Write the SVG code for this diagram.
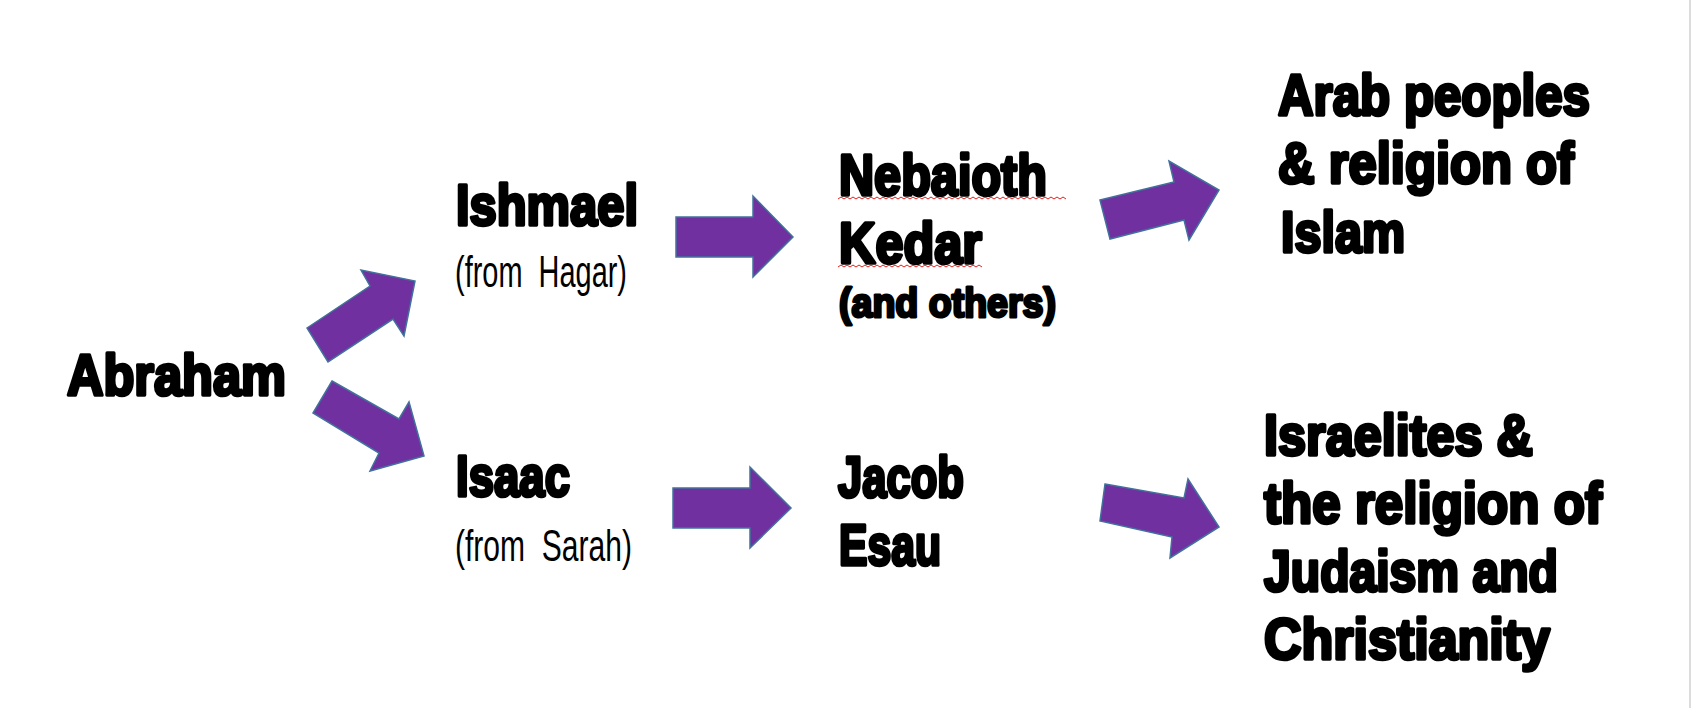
<svg xmlns="http://www.w3.org/2000/svg" width="1692" height="708" viewBox="0 0 1692 708">
<style>
.big{font-family:"Liberation Sans",Arial,sans-serif;font-weight:bold;font-size:57px;fill:#000;stroke:#000;stroke-width:3.6;stroke-linejoin:round}
.mid{font-family:"Liberation Sans",Arial,sans-serif;font-weight:bold;font-size:41px;fill:#000;stroke:#000;stroke-width:3;stroke-linejoin:round}
.small{font-family:"Liberation Sans",Arial,sans-serif;font-size:44px;fill:#000}
.arrow{fill:#7030A0;stroke:#41719C;stroke-width:1.5;stroke-linejoin:miter}
.squig{fill:none;stroke:#E02020;stroke-width:1}
</style>
<rect x="0" y="0" width="1692" height="708" fill="#fff"/>
<line x1="1690" y1="0" x2="1690" y2="708" stroke="#d0d0d0" stroke-width="1.5"/>
<g id="connectors">
<polygon class="arrow" points="307,328 370,286 361,270 415,281 404,336 393,319 328,362"/>
<polygon class="arrow" points="332,381 399,419 409,402 424,456 370,471 379,453 313,413"/>
<polygon class="arrow" points="676,217 753,217 753,196 793,237 753,277 753,257 676,257"/>
<polygon class="arrow" points="673,488 750,488 750,467 791,508 750,548 750,528 673,528"/>
<polygon class="arrow" points="1100,200 1174,182 1169,161 1219,190 1189,240 1184,220 1110,239"/>
<polygon class="arrow" points="1105,484 1184,498 1188,479 1219,527 1170,558 1172,537 1100,521"/>
</g>
<g id="abraham"><text class="big" x="67" y="395" textLength="219" lengthAdjust="spacingAndGlyphs">Abraham</text></g>
<g id="ishmael">
<text class="big" x="456" y="225" textLength="182" lengthAdjust="spacingAndGlyphs">Ishmael</text>
<text class="small" x="455" y="287" textLength="172" lengthAdjust="spacingAndGlyphs" xml:space="preserve">(from  Hagar)</text>
</g>
<g id="isaac">
<text class="big" x="456" y="496" textLength="114" lengthAdjust="spacingAndGlyphs">Isaac</text>
<text class="small" x="455" y="561" textLength="177" lengthAdjust="spacingAndGlyphs" xml:space="preserve">(from  Sarah)</text>
</g>
<g id="nebaioth-kedar">
<text class="big" x="839" y="195" textLength="208" lengthAdjust="spacingAndGlyphs">Nebaioth</text>
<path class="squig" d="M838,199 l3,-2 l3,2 l3,-2 l3,2 l3,-2 l3,2 l3,-2 l3,2 l3,-2 l3,2 l3,-2 l3,2 l3,-2 l3,2 l3,-2 l3,2 l3,-2 l3,2 l3,-2 l3,2 l3,-2 l3,2 l3,-2 l3,2 l3,-2 l3,2 l3,-2 l3,2 l3,-2 l3,2 l3,-2 l3,2 l3,-2 l3,2 l3,-2 l3,2 l3,-2 l3,2 l3,-2 l3,2 l3,-2 l3,2 l3,-2 l3,2 l3,-2 l3,2 l3,-2 l3,2 l3,-2 l3,2 l3,-2 l3,2 l3,-2 l3,2 l3,-2 l3,2 l3,-2 l3,2 l3,-2 l3,2 l3,-2 l3,2 l3,-2 l3,2 l3,-2 l3,2 l3,-2 l3,2 l3,-2 l3,2 l3,-2 l3,2 l3,-2 l3,2 l3,-2 l3,2"/>
<text class="big" x="839" y="263" textLength="143" lengthAdjust="spacingAndGlyphs">Kedar</text>
<path class="squig" d="M838,267 l3,-2 l3,2 l3,-2 l3,2 l3,-2 l3,2 l3,-2 l3,2 l3,-2 l3,2 l3,-2 l3,2 l3,-2 l3,2 l3,-2 l3,2 l3,-2 l3,2 l3,-2 l3,2 l3,-2 l3,2 l3,-2 l3,2 l3,-2 l3,2 l3,-2 l3,2 l3,-2 l3,2 l3,-2 l3,2 l3,-2 l3,2 l3,-2 l3,2 l3,-2 l3,2 l3,-2 l3,2 l3,-2 l3,2 l3,-2 l3,2 l3,-2 l3,2 l3,-2 l3,2"/>
<text class="mid" x="839" y="317" textLength="217" lengthAdjust="spacingAndGlyphs">(and others)</text>
</g>
<g id="jacob-esau">
<text class="big" x="838" y="497" textLength="126" lengthAdjust="spacingAndGlyphs">Jacob</text>
<text class="big" x="839" y="565" textLength="102" lengthAdjust="spacingAndGlyphs">Esau</text>
</g>
<g id="arab-islam">
<text class="big" x="1278" y="115" textLength="312" lengthAdjust="spacingAndGlyphs">Arab peoples</text>
<text class="big" x="1278" y="183" textLength="296" lengthAdjust="spacingAndGlyphs">&amp; religion of</text>
<text class="big" x="1281" y="252" textLength="124" lengthAdjust="spacingAndGlyphs">Islam</text>
</g>
<g id="israelites">
<text class="big" x="1264" y="455" textLength="269" lengthAdjust="spacingAndGlyphs">Israelites &amp;</text>
<text class="big" x="1264" y="523" textLength="338" lengthAdjust="spacingAndGlyphs">the religion of</text>
<text class="big" x="1264" y="591" textLength="294" lengthAdjust="spacingAndGlyphs">Judaism and</text>
<text class="big" x="1264" y="659" textLength="286" lengthAdjust="spacingAndGlyphs">Christianity</text>
</g>
</svg>
